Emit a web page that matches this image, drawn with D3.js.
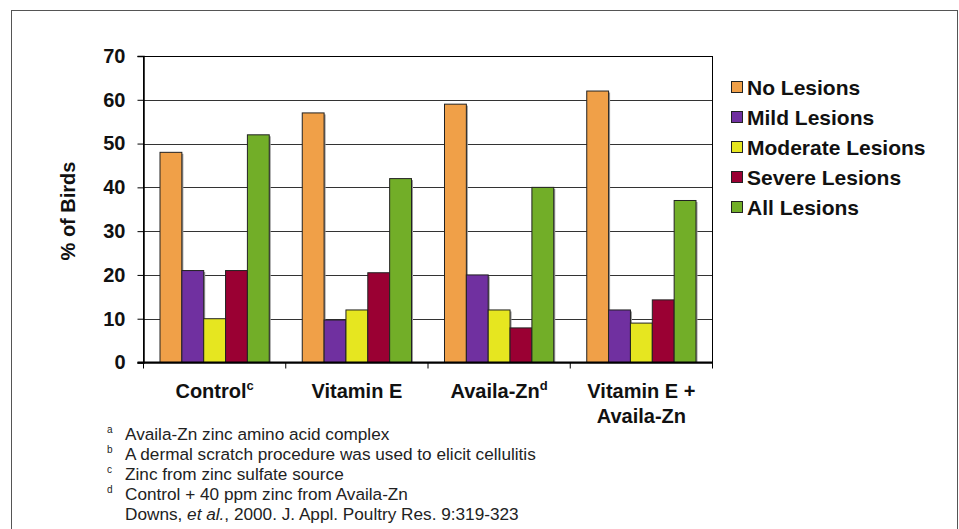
<!DOCTYPE html>
<html>
<head>
<meta charset="utf-8">
<script src="https://cdn.jsdelivr.net/npm/d3@7"></script>
<style>
  body { margin: 0; background: #fff; }
  text { font-family: "Liberation Sans", Arial, sans-serif; }
</style>
</head>
<body>
<script>
//panel size
var w = 959, h = 529;

//chart data
var categories = ["Control", "Vitamin E", "Availa-Zn", "Vitamin E + Availa-Zn"];
var catSup = ["c", "", "d", ""];
var seriesNames = ["No Lesions", "Mild Lesions", "Moderate Lesions", "Severe Lesions", "All Lesions"];
var noLesions = [48, 57, 59, 62];
var mildLesions = [21, 9.7, 20, 12];
var moderateLesions = [10, 12, 12, 9];
var severeLesions = [21, 20.5, 7.9, 14.3];
var allLesions = [52, 42, 40, 37];
var yTicks = [0, 10, 20, 30, 40, 50, 60, 70];
var footnotes = [
    ["a", "Availa-Zn zinc amino acid complex"],
    ["b", "A dermal scratch procedure was used to elicit cellulitis"],
    ["c", "Zinc from zinc sulfate source"],
    ["d", "Control + 40 ppm zinc from Availa-Zn"]
];

var seriesValues = [noLesions, mildLesions, moderateLesions, severeLesions, allLesions];
var colors = ["#F0A048", "#7030A0", "#E6E620", "#9A0033", "#72AE28"];

window.onload = function(){

    var svg = d3.select("body")
        .append("svg")
        .attr("width", w)
        .attr("height", h);

    //outer frame
    svg.append("rect")
        .attr("x", 11.5)
        .attr("y", 10.5)
        .attr("width", 946)
        .attr("height", 540)
        .style("fill", "none")
        .style("stroke", "#555");

    //plot area bounds
    var left = 143.5, right = 712.5, top = 56, bottom = 362.5;

    var x0 = d3.scaleBand()
        .domain(categories)
        .range([left, right])
        .paddingInner(0.232)
        .paddingOuter(0.116);

    var x1 = d3.scaleBand()
        .domain(seriesNames)
        .range([0, x0.bandwidth()]);

    var y = d3.scaleLinear()
        .domain([0, 70])
        .range([bottom, top]);

    //gridlines
    svg.selectAll(".grid")
        .data(yTicks.slice(1))
        .enter()
        .append("line")
        .attr("class", "grid")
        .attr("x1", left)
        .attr("x2", right)
        .attr("y1", function(d){ return Math.round(y(d)) + 0.5; })
        .attr("y2", function(d){ return Math.round(y(d)) + 0.5; })
        .style("stroke", "#333");

    //plot border
    svg.append("rect")
        .attr("x", left)
        .attr("y", top + 0.5)
        .attr("width", right - left)
        .attr("height", bottom - top)
        .style("fill", "none")
        .style("stroke", "#000");

    //bars, one group per category
    var rows = categories.map(function(c, i){
        return seriesNames.map(function(s, j){
            return {cat: c, series: s, value: seriesValues[j][i], color: colors[j]};
        });
    });

    var groups = svg.selectAll(".group")
        .data(rows)
        .enter()
        .append("g")
        .attr("class", "group")
        .attr("transform", function(d, i){
            return "translate(" + x0(categories[i]) + ",0)";
        });

    //slight shadow behind bars
    groups.selectAll(".shadow")
        .data(function(d){ return d; })
        .enter()
        .append("rect")
        .attr("class", "shadow")
        .attr("x", function(d){ return x1(d.series) + 1.5; })
        .attr("y", function(d){ return y(d.value) + 1.5; })
        .attr("width", x1.bandwidth())
        .attr("height", function(d){ return bottom - y(d.value) - 1.5; })
        .style("fill", "#999");

    groups.selectAll(".bar")
        .data(function(d){ return d; })
        .enter()
        .append("rect")
        .attr("class", "bar")
        .attr("x", function(d){ return x1(d.series); })
        .attr("y", function(d){ return y(d.value); })
        .attr("width", x1.bandwidth())
        .attr("height", function(d){ return bottom - y(d.value); })
        .style("fill", function(d){ return d.color; })
        .style("stroke", "#222")
        .style("stroke-width", 1);

    //y axis
    var yAxis = d3.axisLeft(y)
        .tickValues(yTicks)
        .tickSize(6)
        .tickPadding(12)
        .tickFormat(d3.format("d"));

    var yAx = svg.append("g")
        .attr("class", "axis")
        .attr("transform", "translate(" + left + ",0)")
        .call(yAxis);

    yAx.select(".domain").style("stroke", "#000").style("stroke-width", 1.5);
    yAx.selectAll(".tick line").style("stroke", "#000");
    yAx.selectAll("text")
        .style("font-family", "Liberation Sans, Arial, sans-serif")
        .style("font-size", "20px")
        .style("font-weight", "bold")
        .style("fill", "#111");

    //x axis baseline and separator ticks
    svg.append("line")
        .attr("x1", left - 6)
        .attr("x2", right)
        .attr("y1", bottom)
        .attr("y2", bottom)
        .style("stroke", "#000")
        .style("stroke-width", 2);

    //boundaries between category cells
    var bounds = categories.map(function(c){
        return x0(c) - (x0.step() - x0.bandwidth()) / 2;
    });
    bounds.push(right);

    svg.selectAll(".xtick")
        .data(bounds)
        .enter()
        .append("line")
        .attr("class", "xtick")
        .attr("x1", function(d){ return d; })
        .attr("x2", function(d){ return d; })
        .attr("y1", bottom)
        .attr("y2", bottom + 6)
        .style("stroke", "#000");

    //category labels
    var catLabels = svg.selectAll(".catLabel")
        .data(categories)
        .enter()
        .append("text")
        .attr("class", "catLabel")
        .attr("text-anchor", "middle")
        .attr("x", function(d){ return x0(d) + x0.bandwidth() / 2; })
        .attr("y", 398)
        .style("font-size", "20px")
        .style("font-weight", "bold")
        .style("fill", "#111");

    catLabels.each(function(d, i){
        var t = d3.select(this);
        if (d === "Vitamin E + Availa-Zn") {
            t.append("tspan").attr("x", x0(d) + x0.bandwidth() / 2).text("Vitamin E +");
            t.append("tspan").attr("x", x0(d) + x0.bandwidth() / 2).attr("dy", 25).text("Availa-Zn");
        } else {
            t.append("tspan").text(d);
            if (catSup[i]) {
                t.append("tspan")
                    .attr("dy", -8)
                    .style("font-size", "13px")
                    .text(catSup[i]);
            }
        }
    });

    //y axis title
    svg.append("text")
        .attr("transform", "translate(75,211) rotate(-90)")
        .attr("text-anchor", "middle")
        .style("font-size", "20px")
        .style("font-weight", "bold")
        .style("fill", "#111")
        .text("% of Birds");

    //legend
    var legend = svg.selectAll(".legend")
        .data(seriesNames)
        .enter()
        .append("g")
        .attr("class", "legend")
        .attr("transform", function(d, i){
            return "translate(731," + (87 + i * 30) + ")";
        });

    legend.append("rect")
        .attr("x", 0.5)
        .attr("y", -5.5)
        .attr("width", 11)
        .attr("height", 11)
        .style("fill", function(d, i){ return colors[i]; })
        .style("stroke", "#222");

    legend.append("text")
        .attr("x", 16)
        .attr("y", 7.5)
        .style("font-size", "21px")
        .style("font-weight", "bold")
        .style("fill", "#111")
        .text(function(d){ return d; });

    //footnotes
    var notes = svg.selectAll(".note")
        .data(footnotes)
        .enter()
        .append("g")
        .attr("class", "note")
        .attr("transform", function(d, i){
            return "translate(0," + (440 + i * 20) + ")";
        });

    notes.append("text")
        .attr("x", 107)
        .attr("y", -7)
        .style("font-size", "10px")
        .style("fill", "#222")
        .text(function(d){ return d[0]; });

    notes.append("text")
        .attr("x", 125)
        .attr("y", 0)
        .style("font-size", "17.2px")
        .style("fill", "#222")
        .text(function(d){ return d[1]; });

    var cite = svg.append("text")
        .attr("x", 125)
        .attr("y", 520)
        .style("font-size", "17.2px")
        .style("fill", "#222");
    cite.append("tspan").text("Downs, ");
    cite.append("tspan").style("font-style", "italic").text("et al.");
    cite.append("tspan").text(", 2000. J. Appl. Poultry Res. 9:319-323");

};
</script>
</body>
</html>
